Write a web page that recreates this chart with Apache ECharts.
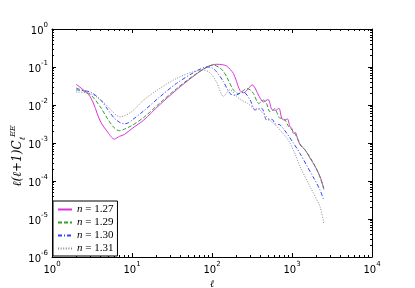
<!DOCTYPE html>
<html><head><meta charset="utf-8">
<script src="https://cdn.jsdelivr.net/npm/echarts@6/dist/echarts.min.js"></script>
<style>html,body{margin:0;padding:0;background:#fff}#c{width:415px;height:288px}</style>
</head><body><div id="c"></div>
<script>
const seriesNames = ['n=1.27', 'n=1.29', 'n=1.30', 'n=1.31'];
const xTickExps = [0, 1, 2, 3, 4];
const yTickExps = [-6, -5, -4, -3, -2, -1, 0];

const ell127 = [2,3,4,5,6,7,8,10,14,22,36,58,86,114,135,152,170,185,200,224,250,285,318,345,390,440,503,530,557,620,688,715,742,800,875,944,1000,1040,1100,1150,1260,1460,1680,1950,2240,2500];
const val127 = [0.035,0.0166,0.0038,0.0019,0.00127,0.0015,0.00167,0.0024,0.0040,0.010,0.025,0.056,0.10,0.118,0.115,0.107,0.085,0.068,0.045,0.024,0.021,0.027,0.034,0.028,0.0166,0.012,0.014,0.011,0.0077,0.0072,0.0082,0.0065,0.0045,0.0040,0.0043,0.0027,0.0024,0.0018,0.0019,0.0015,0.0009,0.00066,0.0004,0.00024,0.00013,0.000064];

const ell129 = [2,3,4,5,6,7,8,10,14,22,36,58,80,104,125,140,152,185,213,240,272,300,330,385,440,480,531,570,610,660,708,760,820,900,1000,1100,1260,1500,1800,2200,2500];
const val129 = [0.028,0.019,0.009,0.0042,0.0025,0.0021,0.0023,0.0029,0.0047,0.011,0.027,0.058,0.09,0.113,0.095,0.075,0.056,0.025,0.020,0.023,0.027,0.025,0.020,0.011,0.0135,0.011,0.0066,0.0072,0.0080,0.0058,0.0045,0.0045,0.0040,0.0028,0.0022,0.0017,0.00095,0.0006,0.00033,0.00014,0.00006];

const ell130 = [2,3,4,5,6,7,8,9,10,14,22,36,58,71,86,100,114,139,168,194,220,246,300,345,417,485,560,620,708,860,1040,1260,1520,1830,2240,2500];
const val130 = [0.025,0.022,0.014,0.0075,0.0045,0.0035,0.0032,0.0034,0.0040,0.0070,0.016,0.037,0.07,0.088,0.10,0.095,0.075,0.041,0.020,0.018,0.020,0.022,0.0135,0.0074,0.0082,0.004,0.0042,0.0032,0.003,0.0018,0.001,0.00053,0.00026,0.00013,0.000058,0.000031];

const ell131 = [2,3,4,5,6,7,8,10,14,22,36,58,78,95,114,139,168,204,240,280,330,380,440,531,620,708,830,944,1100,1260,1680,2240,2500];
const val131 = [0.022,0.020,0.014,0.009,0.006,0.0049,0.0052,0.0068,0.0135,0.027,0.050,0.075,0.083,0.07,0.04,0.017,0.025,0.0166,0.013,0.011,0.0082,0.0078,0.006,0.004,0.003,0.0022,0.0015,0.001,0.0005,0.00024,0.000071,0.000021,0.0000075];

const ells = [ell127, ell129, ell130, ell131];
const vals = [val127, val129, val130, val131];
const colors = ['#dd33dd', '#33a033', '#3344ff', '#888888'];
const dashes = ['solid', [4, 2], [4, 2, 1, 2], [1, 1.6]];

function powLabel(v) {
  const e = Math.round(Math.log10(v));
  return '{b|10}{s|' + String(e) + '}';
}
const richLbl = {
  b: {fontFamily: 'DejaVu Sans', fontSize: 10, color: '#000', lineHeight: 14, verticalAlign: 'bottom'},
  s: {fontFamily: 'DejaVu Sans', fontSize: 7, color: '#000', lineHeight: 14, verticalAlign: 'top'}
};

function makeX(pos, show) {
  return {
    type: 'log', logBase: 10, min: 1, max: 10000, position: pos,
    axisLine: {show: true, onZero: false, lineStyle: {color: '#000', width: 1}},
    axisTick: {show: true, inside: true, length: 4, lineStyle: {color: '#000'}},
    minorTick: {show: true, splitNumber: 9, length: 2, lineStyle: {color: '#000'}},
    splitLine: {show: false},
    axisLabel: {show: show, formatter: powLabel, rich: richLbl, margin: 4},
    name: show ? 'ℓ' : '', nameLocation: 'middle', nameGap: 18,
    nameTextStyle: {fontFamily: 'DejaVu Serif', fontSize: 10, fontStyle: 'italic', color: '#000'}
  };
}
function makeY(pos, show) {
  return {
    type: 'log', logBase: 10, min: 1e-6, max: 1, position: pos,
    axisLine: {show: true, onZero: false, lineStyle: {color: '#000', width: 1}},
    axisTick: {show: true, inside: true, length: 4, lineStyle: {color: '#000'}},
    minorTick: {show: true, splitNumber: 9, length: 2, lineStyle: {color: '#000'}},
    splitLine: {show: false},
    axisLabel: {show: show, formatter: powLabel, rich: richLbl, margin: 4}
  };
}

const series = seriesNames.map((nm, i) => ({
  name: nm, type: 'line', xAxisIndex: 0, yAxisIndex: 0,
  symbol: 'none', showSymbol: false, smooth: 0.3, animation: false,
  lineStyle: {color: colors[i], width: 1, type: dashes[i]},
  itemStyle: {color: colors[i]},
  data: ells[i].map((l, j) => [l, vals[i][j]])
}));

const chart = echarts.init(document.getElementById('c'), null, {renderer: 'canvas'});
chart.setOption({
  animation: false,
  backgroundColor: '#fff',
  grid: {left: 52, right: 43, top: 29, bottom: 31, containLabel: false, outerBoundsMode: 'none'},
  xAxis: [makeX('bottom', true), makeX('top', false)],
  yAxis: [makeY('left', true), makeY('right', false)],
  graphic: [{
    type: 'text', x: 18, y: 156, rotation: Math.PI / 2,
    style: {
      text: '{a|ℓ(ℓ+1)C}{b|ℓ}{c|EE}',
      align: 'center', verticalAlign: 'middle',
      rich: {
        a: {fontFamily: 'DejaVu Serif', fontSize: 12, fontStyle: 'italic', fill: '#000', lineHeight: 18, verticalAlign: 'middle'},
        b: {fontFamily: 'DejaVu Serif', fontSize: 8, fontStyle: 'italic', fill: '#000', lineHeight: 18, verticalAlign: 'bottom'},
        c: {fontFamily: 'DejaVu Serif', fontSize: 8, fontStyle: 'italic', fill: '#000', lineHeight: 18, verticalAlign: 'top'}
      }
    }
  }],
  legend: {
    orient: 'vertical', left: 53, top: 201,
    backgroundColor: '#fff', borderColor: '#000', borderWidth: 1, borderRadius: 0,
    padding: [3, 4, 2, 4], itemGap: 2, itemWidth: 14, itemHeight: 11,
    itemStyle: {opacity: 0, borderWidth: 0},
    data: seriesNames,
    formatter: function (name) { return '{i|n}{t| = ' + name.slice(2) + '}'; },
    textStyle: {
      rich: {
        i: {fontFamily: 'Liberation Serif', fontStyle: 'italic', fontSize: 11, color: '#000'},
        t: {fontFamily: 'Liberation Serif', fontSize: 11, color: '#000'}
      }
    }
  },
  series: series
});
</script></body></html>
